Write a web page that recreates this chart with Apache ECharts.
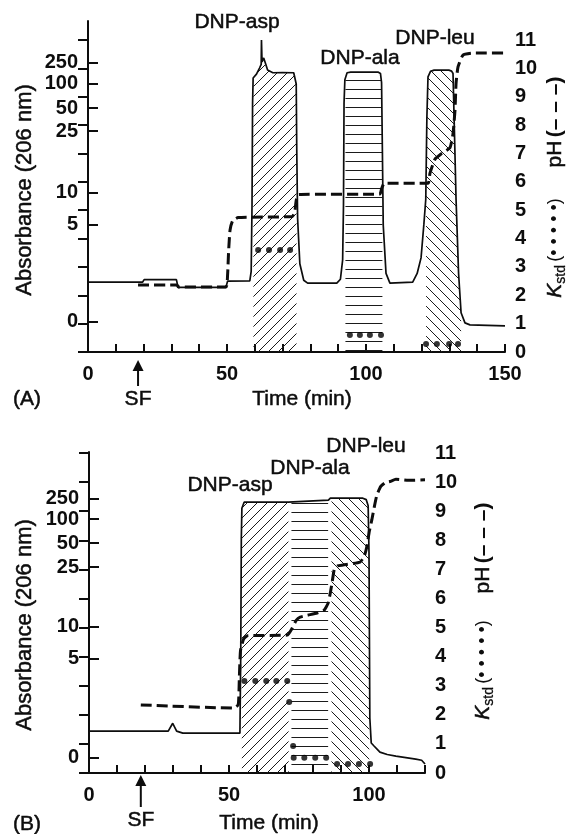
<!DOCTYPE html>
<html>
<head>
<meta charset="utf-8">
<script src="https://cdn.jsdelivr.net/npm/echarts@6/dist/echarts.min.js"></script>
<style>
  html, body { margin: 0; padding: 0; background: #fff; }
  #c { width: 566px; height: 834px; }
</style>
</head>
<body>
<div id="c"></div>
<script>
// Absorbance axis of the recorder is non-linear: tick values and where each sits on the pH scale (0-11)
const absTicks = [0, 5, 10, 25, 50, 100, 250];
const absTickPosA = [1.06, 4.48, 5.61, 7.79, 8.60, 9.45, 10.19];
const absTickPosB = [0.52, 3.92, 5.02, 7.08, 7.90, 8.73, 9.42];

// Run A: absorbance trace [time (min), absorbance]
const absA = [
  [0, 2.05], [19.6, 2.05], [20.2, 2.18], [31.8, 2.18], [32.4, 1.78], [49.6, 1.78], [50.2, 2.1],
  [58.2, 2.12], [58.7, 2.6], [59.0, 8], [59.2, 60], [59.4, 143], [60.6, 170], [61.7, 214], [62.3, 240],
  [62.4, 414], [62.5, 414], [62.6, 258], [63.2, 286], [63.8, 250], [64.6, 199], [66.5, 180], [70, 182],
  [74.0, 180], [74.6, 170], [74.9, 100], [75.1, 20], [75.4, 6], [76.2, 3], [77.6, 2.15], [79, 2.0],
  [89.5, 2.0], [90.8, 2.2], [91.6, 3.2], [91.9, 8], [92.1, 60], [92.4, 130], [93.2, 180], [94.5, 185],
  [104.3, 185], [105.2, 175], [105.6, 110], [105.9, 20], [106.2, 5], [107.2, 2.5], [108.6, 2.0],
  [116.8, 2.05], [118.4, 2.5], [119.8, 3.3], [120.8, 5], [121.5, 9], [121.9, 40], [122.3, 150],
  [123.2, 190], [124.5, 199], [129.8, 199], [130.8, 192], [131.3, 175], [131.8, 26], [132.4, 8.9],
  [133.3, 2.5], [134.2, 0.47], [135.6, -0.05], [137.4, -0.15], [150, -0.2]
];
// Run A: pH of the effluent [time, pH]
const phA = [
  [18, 2.36], [32, 2.36], [32.5, 2.29], [49.6, 2.29], [50.2, 2.7], [50.6, 3.6], [51.1, 4.3], [52, 4.62],
  [54, 4.74], [73.5, 4.78], [74.4, 4.95], [74.9, 5.35], [75.8, 5.55], [105, 5.57], [105.6, 5.75],
  [106.6, 5.95], [122.3, 5.95], [123, 6.3], [124.8, 6.8], [127, 6.98], [130.2, 7.2], [131.3, 7.7],
  [132, 8.5], [132.4, 9.48], [133.1, 10.05], [134.9, 10.47], [138.5, 10.54], [150, 10.54]
];
// Run A: K_std of collected fractions [time, K]
const kstdA = [
  [61.2, 3.6], [65.1, 3.6], [69.1, 3.6], [72.7, 3.6],
  [94.2, 0.6], [97.8, 0.6], [101.4, 0.6], [105.4, 0.6],
  [121.6, 0.28], [125.5, 0.28], [129.9, 0.28], [133.1, 0.28]
];
// Run A: fraction windows [start, end] (min) for DNP-asp, DNP-ala, DNP-leu
const fractionsA = [[59.5, 75.0], [92.6, 105.9], [121.6, 134.2]];
const sfA = 18;

// Run B
const absB = [
  [0, 1.35], [28.3, 1.35], [29.9, 1.75], [31.3, 1.35], [33.5, 1.25], [53.9, 1.25], [54.2, 6],
  [54.4, 60], [54.6, 180], [55.4, 226], [71.2, 226], [71.6, 238], [85.5, 241], [86.2, 256],
  [97.8, 256], [99.0, 245], [99.7, 200], [100.0, 40], [100.3, 2], [100.8, 0.75], [101.8, 0.6],
  [103.9, 0.29], [106.5, 0.17], [109.6, 0.09], [116.7, -0.06], [118.8, -0.12], [120, -0.31]
];
const phB = [
  [18.5, 2.34], [51.6, 2.23], [53.3, 2.35], [53.7, 3.3], [54.1, 4.2], [55.2, 4.6], [56.6, 4.72],
  [70.8, 4.74], [72.4, 4.95], [74, 5.25], [75.4, 5.36], [81.5, 5.5], [84, 5.6], [85.4, 5.84],
  [86.3, 6.25], [86.9, 6.6], [87.6, 7.0], [88.8, 7.12], [90.7, 7.15], [96.8, 7.25], [98.3, 7.45],
  [99.2, 7.77], [100.1, 8.3], [101, 8.7], [102, 9.2], [102.8, 9.55], [104.2, 9.85], [105.8, 9.98],
  [107.5, 10.02], [109.6, 10.1], [114, 10.06], [120, 10.08]
];
const kstdB = [
  [55.5, 3.16], [59.4, 3.16], [63.3, 3.16], [66.9, 3.16], [70.8, 3.16],
  [71.5, 2.44], [72.9, 0.93],
  [73.1, 0.52], [76.9, 0.52], [80.8, 0.52], [84.7, 0.52],
  [88.6, 0.31], [92.5, 0.31], [96.4, 0.31], [100.4, 0.31]
];
const fractionsB = [[54.4, 71.3], [72.3, 85.4], [86.6, 100.1]];
const sfB = 18.5;

const fractionNames = ['DNP-asp', 'DNP-ala', 'DNP-leu'];
const xTickLabels = [0, 50, 100, 150];

// ---- helpers ----
const FONT = '"Liberation Sans", Arial, Helvetica, sans-serif';
const INK = '#0d0d0d';

// piecewise scale: absorbance -> position on the shared 0-11 scale
function absToPos(v, posArr) {
  const t = absTicks;
  let i = 0;
  if (v <= t[0]) i = 0;
  else if (v >= t[t.length - 1]) i = t.length - 2;
  else { while (v > t[i + 1]) i++; }
  const f = (v - t[i]) / (t[i + 1] - t[i]);
  return posArr[i] + f * (posArr[i + 1] - posArr[i]);
}
function absLabel(v, posArr) {
  let best = 0;
  posArr.forEach((p, i) => { if (Math.abs(p - v) < Math.abs(posArr[best] - v)) best = i; });
  return String(absTicks[best]);
}
function interpAt(pts, t) {
  for (let i = 0; i < pts.length - 1; i++) {
    const [a, va] = pts[i], [b, vb] = pts[i + 1];
    if (t >= a && t <= b) return b === a ? vb : va + (vb - va) * (t - a) / (b - a);
  }
  return pts[pts.length - 1][1];
}
function clipRange(pts, t0, t1) {
  const out = [[t0, interpAt(pts, t0)]];
  pts.forEach(p => { if (p[0] > t0 && p[0] < t1) out.push(p); });
  out.push([t1, interpAt(pts, t1)]);
  return out;
}
function hatch(kind, step) {
  const c = document.createElement('canvas');
  c.width = step; c.height = step;
  const g = c.getContext('2d');
  g.strokeStyle = '#1a1a1a';
  g.lineWidth = 1;
  g.beginPath();
  if (kind === '/') { g.moveTo(-1, step + 1); g.lineTo(step + 1, -1); }
  else if (kind === '\\') { g.moveTo(-1, -1); g.lineTo(step + 1, step + 1); }
  else { g.moveTo(0, step - 0.5); g.lineTo(step, step - 0.5); }
  g.stroke();
  return { image: c, repeat: 'repeat' };
}
const patterns = [hatch('/', 10), hatch('-', 9), hatch('\\', 10)];

const axisLine = { show: true, lineStyle: { color: INK, width: 2 } };
const tickStyle = { color: INK, width: 2 };
const tickFont = { fontFamily: FONT, fontSize: 20, fontWeight: 'bold', color: INK };

function xAxes(grid, max) {
  return [
    {
      gridIndex: grid, type: 'value', min: 0, max: max, interval: 10,
      axisLine: axisLine,
      axisTick: { show: true, inside: true, length: 8, lineStyle: tickStyle },
      axisLabel: Object.assign({ margin: 12, formatter: v => xTickLabels.includes(v) ? String(v) : '' }, tickFont),
      splitLine: { show: false }
    },
    { gridIndex: grid + 1, type: 'value', min: 0, max: max, show: false }
  ];
}
function yAxes(grid, leftMax, posArr) {
  return [
    {
      gridIndex: grid, type: 'value', min: 0, max: leftMax, position: 'left',
      axisLine: axisLine,
      axisTick: { show: true, inside: true, length: 10, lineStyle: tickStyle, customValues: posArr },
      axisLabel: Object.assign({ margin: 10, customValues: posArr, formatter: v => absLabel(v, posArr) }, tickFont),
      splitLine: { show: false }
    },
    {
      gridIndex: grid + 1, type: 'value', min: 0, max: 11, interval: 1, position: 'right',
      axisLine: axisLine,
      axisTick: { show: true, inside: true, length: 10, lineStyle: tickStyle },
      axisLabel: Object.assign({ margin: 10 }, tickFont),
      splitLine: { show: false }
    }
  ];
}
function panelSeries(axBase, abs, posArr, fractions, ph, kstd) {
  const posTrace = abs.map(([t, v]) => [t, absToPos(v, posArr)]);
  const out = [];
  fractions.forEach(([t0, t1], k) => {
    out.push({
      name: fractionNames[k], type: 'line', xAxisIndex: axBase, yAxisIndex: axBase,
      data: clipRange(posTrace, t0, t1), showSymbol: false, silent: true,
      lineStyle: { width: 0, opacity: 0 },
      areaStyle: { color: patterns[k], opacity: 1, origin: 'start' }, z: 1
    });
  });
  out.push({
    name: 'Absorbance', type: 'line', xAxisIndex: axBase, yAxisIndex: axBase,
    data: posTrace, showSymbol: false, lineStyle: { color: INK, width: 1.7 }, z: 3
  });
  out.push({
    name: 'pH', type: 'line', xAxisIndex: axBase + 1, yAxisIndex: axBase + 1,
    data: ph, showSymbol: false, smooth: 0.15,
    lineStyle: { color: INK, width: 3, type: [11, 5] }, z: 4
  });
  out.push({
    name: 'Kstd', type: 'scatter', xAxisIndex: axBase + 1, yAxisIndex: axBase + 1,
    data: kstd, symbol: 'circle', symbolSize: 6, itemStyle: { color: '#000' }, z: 5
  });
  return out;
}

// grid geometry
const gA = { left: 88, right: 61, top: 21, rightTop: 40, bottom: 482 };
const gB = { left: 89, right: 141, top: 452, rightTop: 453, bottom: 61 };
const leftMaxA = 11 * (834 - gA.bottom - gA.top) / (834 - gA.bottom - gA.rightTop);
const leftMaxB = 11 * (834 - gB.bottom - gB.top) / (834 - gB.bottom - gB.rightTop);

const chart = echarts.init(document.getElementById('c'), null, { renderer: 'canvas' });

// text is drawn slightly heavier than the regular face
const heavy = { stroke: INK, lineWidth: 0.5 };
function txt(x, y, text, size, rotation) {
  const el = {
    type: 'text', x: x, y: y, silent: true,
    style: Object.assign({ text: text, fontFamily: FONT, fontSize: size, fill: INK, align: 'center', verticalAlign: 'middle' }, heavy)
  };
  if (rotation !== undefined) el.rotation = rotation;
  return el;
}
const ROT = Math.PI / 2;
function phTitle(x, y) {
  return {
    type: 'text', x: x, y: y, rotation: ROT, silent: true,
    style: {
      text: '{a|pH} {b|(– – –)}', align: 'center', verticalAlign: 'middle',
      rich: {
        a: Object.assign({ fontFamily: FONT, fontSize: 21, fill: INK }, heavy),
        b: { fontFamily: FONT, fontSize: 21, fontWeight: 'bold', fill: INK }
      }
    }
  };
}
function kTitle(x, y) {
  return {
    type: 'text', x: x, y: y, rotation: ROT, silent: true,
    style: {
      text: '{k|K}{s|std} {b|(• • • • •)}', align: 'center', verticalAlign: 'middle',
      rich: {
        k: Object.assign({ fontFamily: FONT, fontSize: 21, fontStyle: 'italic', fill: INK }, heavy),
        s: Object.assign({ fontFamily: FONT, fontSize: 14, fill: INK, padding: [12, 0, 0, 0] }, { stroke: INK, lineWidth: 0.3 }),
        b: { fontFamily: FONT, fontSize: 18, fill: INK }
      }
    }
  };
}
function arrow(x, yTip, yEnd) {
  return {
    type: 'group', silent: true,
    children: [
      { type: 'polygon', shape: { points: [[x, yTip], [x - 5.5, yTip + 11], [x + 5.5, yTip + 11]] }, style: { fill: INK } },
      { type: 'line', shape: { x1: x, y1: yTip + 8, x2: x, y2: yEnd }, style: { stroke: INK, lineWidth: 2 } }
    ]
  };
}

const option = {
  animation: false,
  backgroundColor: '#fff',
  grid: [
    { left: gA.left, right: gA.right, top: gA.top, bottom: gA.bottom },
    { left: gA.left, right: gA.right, top: gA.rightTop, bottom: gA.bottom },
    { left: gB.left, right: gB.right, top: gB.top, bottom: gB.bottom },
    { left: gB.left, right: gB.right, top: gB.rightTop, bottom: gB.bottom }
  ],
  xAxis: [].concat(xAxes(0, 150), xAxes(2, 120)),
  yAxis: [].concat(yAxes(0, leftMaxA, absTickPosA), yAxes(2, leftMaxB, absTickPosB)),
  series: [].concat(
    panelSeries(0, absA, absTickPosA, fractionsA, phA, kstdA),
    panelSeries(2, absB, absTickPosB, fractionsB, phB, kstdB)
  )
};
chart.setOption(option);

// annotations
const sfXA = chart.convertToPixel({ xAxisIndex: 0 }, sfA);
const sfXB = chart.convertToPixel({ xAxisIndex: 2 }, sfB);
chart.setOption({
  graphic: [
    // run A
    txt(237, 22, fractionNames[0], 21),
    txt(360, 58, fractionNames[1], 21),
    txt(435, 38, fractionNames[2], 21),
    txt(25, 190, 'Absorbance (206 nm)', 22, ROT),
    phTitle(555, 122),
    kTitle(555, 248),
    txt(27, 399, '(A)', 21),
    txt(sfXA, 399, 'SF', 21),
    txt(302, 399, 'Time (min)', 21),
    arrow(sfXA, 360, 386),
    // run B
    txt(230, 485, fractionNames[0], 21),
    txt(310, 468, fractionNames[1], 21),
    txt(366, 446, fractionNames[2], 21),
    txt(25, 625, 'Absorbance (206 nm)', 22, ROT),
    phTitle(483, 548),
    kTitle(483, 670),
    txt(27, 824, '(B)', 21),
    txt(sfXB, 820, 'SF', 21),
    txt(269, 823, 'Time (min)', 21),
    arrow(sfXB, 775, 807)
  ]
});
</script>
</body>
</html>
